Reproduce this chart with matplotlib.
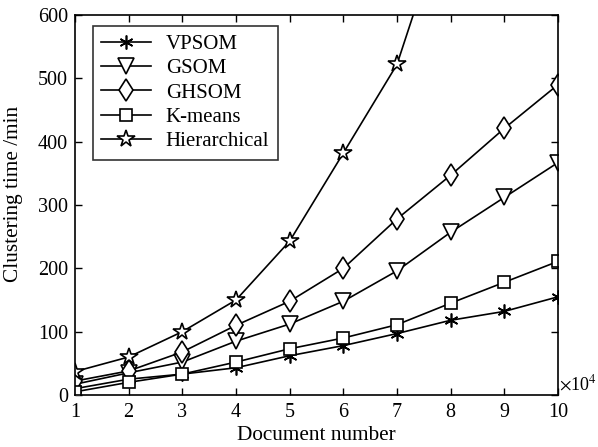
import matplotlib
matplotlib.use("Agg")
import matplotlib.pyplot as plt

plt.rcParams['font.family'] = ['Liberation Serif', 'DejaVu Serif']
plt.rcParams['mathtext.fontset'] = 'stix'

x = [1, 2, 3, 4, 5, 6, 7, 8, 9, 10]
vpsom = [10, 25, 33, 43, 62, 78, 97, 118, 132, 155]
gsom = [17, 35, 52, 85, 112, 148, 196, 257, 312, 367]
ghsom = [22, 38, 68, 110, 148, 200, 278, 347, 421, 490]
kmeans = [5, 20, 33, 52, 73, 90, 111, 145, 178, 211]
hier_x = [1, 2, 3, 4, 5, 6, 7, 8]
hier = [37, 60, 100, 150, 243, 382, 522, 780]

fig = plt.figure(figsize=(5.98, 4.47), dpi=100)
ax = fig.add_axes([75 / 598, 1 - 395 / 447, 483 / 598, 380 / 447])

lw = 1.2
kw = dict(color='black', lw=lw, markerfacecolor='white', markeredgecolor='black', markeredgewidth=1.2)
ax.plot(x, vpsom, marker=(6, 2, 0), markersize=10, label='VPSOM', **kw)
ax.plot(x, gsom, marker='v', markersize=11, label='GSOM', **kw)
ax.plot(x, ghsom, marker='d', markersize=11.5, label='GHSOM', **kw)
ax.plot(x, kmeans, marker='s', markersize=8.5, label='K-means', **kw)
ax.plot(hier_x, hier, marker='*', markersize=13, label='Hierarchical', **kw)

ax.set_xlim(1, 10)
ax.set_ylim(0, 600)
ax.set_xticks(x)
ax.set_yticks([0, 100, 200, 300, 400, 500, 600])
ax.tick_params(direction='in', top=True, right=True, labelsize=14.5, length=5, width=1)
ax.tick_params(axis='y', pad=5)
ax.tick_params(axis='x', pad=6)
for s in ax.spines.values():
    s.set_linewidth(1.2)
ax.set_xlabel('Document number', fontsize=15.3, labelpad=3)
ax.set_ylabel('Clustering time /min', fontsize=15.3)
ax.yaxis.set_label_coords(-0.108, 0.53)
ax.text(1.003, 0.03, r'$\times$10$^4$', transform=ax.transAxes, fontsize=13, ha='left', va='center')

leg = ax.legend(loc='upper left', bbox_to_anchor=(0.037, 0.971), borderaxespad=0, fontsize=15,
                frameon=True, fancybox=False, edgecolor='black', handlelength=2.4,
                labelspacing=0.23, borderpad=0.4, handletextpad=0.7)
leg.get_frame().set_linewidth(1.2)

fig.savefig('out.png', dpi=100)
